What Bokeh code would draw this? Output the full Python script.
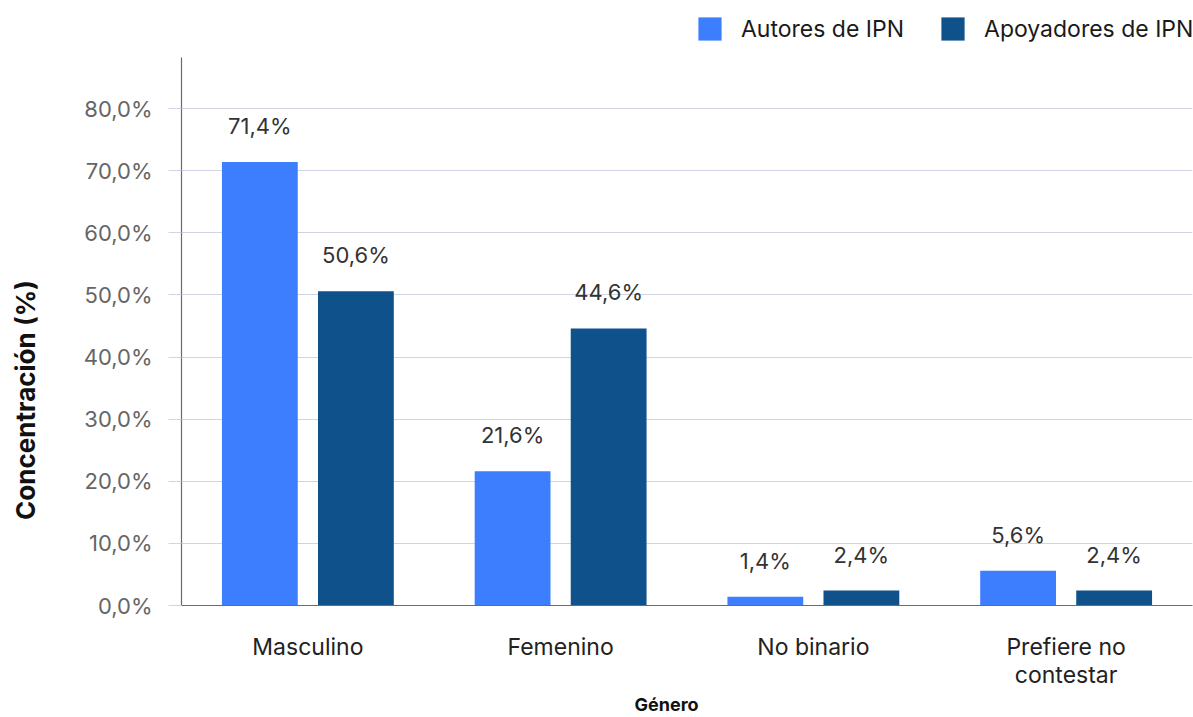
import math
from bokeh.plotting import figure
from bokeh.layouts import row
from bokeh.models import (ColumnDataSource, FactorRange, Range1d, Legend, LegendItem,
                          Title, CustomJSTickFormatter, FixedTicker)
from bokeh.transform import dodge
from bokeh.core.properties import value
from bokeh.embed import file_html
from bokeh.resources import INLINE

# ---- data ----
categories = ["Masculino", "Femenino", "No binario", "Prefiere no\ncontestar"]
autores = [71.4, 21.6, 1.4, 5.6]
apoyadores = [50.6, 44.6, 2.4, 2.4]
series_names = ["Autores de IPN", "Apoyadores de IPN"]
y_ticks = [0, 10, 20, 30, 40, 50, 60, 70, 80]
y_axis_end = 88.2
x_title = "Género"
y_title = "Concentración (%)"

def fmt(v):
    return f"{v:.1f}".replace(".", ",") + "%"

src = ColumnDataSource(dict(
    cat=categories,
    autores=autores,
    apoyadores=apoyadores,
    lab_a=[fmt(v) for v in autores],
    lab_b=[fmt(v) for v in apoyadores],
))

FONT = "Inter"
C_LIGHT = "#3d7eff"
C_DARK = "#0f528b"
GRID = "#d1d4e6"
W, H = 1193, 717
LEFT_W = 48
FRAME_LEFT, FRAME_RIGHT, FRAME_BOTTOM = 181, 1192, 605
PX_PER_UNIT = (605 - 108) / 80.0
y_view_end = FRAME_BOTTOM / PX_PER_UNIT   # frame reaches the top of the canvas

# ---- main chart ----
p = figure(x_range=FactorRange(*categories), y_range=Range1d(0, y_view_end),
           width=W - LEFT_W, height=H, output_backend="svg", toolbar_location=None,
           min_border_left=FRAME_LEFT - LEFT_W, min_border_right=W - FRAME_RIGHT,
           min_border_top=0, min_border_bottom=H - FRAME_BOTTOM)
p.title.visible = False
p.outline_line_color = None
p.background_fill_color = "white"
p.border_fill_color = "white"

r1 = p.vbar(x=dodge("cat", -0.19, range=p.x_range), top="autores", width=0.30,
            source=src, fill_color=C_LIGHT, line_color=None)
r2 = p.vbar(x=dodge("cat", 0.19, range=p.x_range), top="apoyadores", width=0.30,
            source=src, fill_color=C_DARK, line_color=None)

for col, lab, off in (("autores", "lab_a", -0.19), ("apoyadores", "lab_b", 0.19)):
    p.text(x=dodge("cat", off, range=p.x_range), y=col, text=lab, source=src,
           y_offset=-36, text_align="center", text_baseline="middle",
           text_font=value(FONT), text_font_size="22px", text_color="#333333")

p.xgrid.visible = False
p.ygrid.grid_line_color = GRID
p.ygrid.grid_line_width = 1

ya = p.yaxis[0]
ya.bounds = (0, y_axis_end)
ya.ticker = FixedTicker(ticks=y_ticks)
ya.formatter = CustomJSTickFormatter(code="return tick.toFixed(1).replace('.', ',') + '%';")
ya.major_tick_out = 13
ya.major_tick_in = 0
ya.major_tick_line_color = GRID
ya.minor_tick_line_color = None
ya.axis_line_color = "#6b6b6b"
ya.axis_line_width = 1.2
ya.major_label_standoff = 16
ya.major_label_text_font = FONT
ya.major_label_text_font_size = "22px"
ya.major_label_text_color = "#666666"

xa = p.xaxis[0]
xa.major_tick_line_color = None
xa.major_tick_out = 0
xa.major_tick_in = 0
xa.minor_tick_line_color = None
xa.axis_line_color = "#6b6b6b"
xa.axis_line_width = 1.2
xa.major_label_standoff = 27
xa.major_label_text_font = FONT
xa.major_label_text_font_size = "23px"
xa.major_label_text_line_height = 1.0
xa.major_label_text_color = "#222222"

p.add_layout(Title(text=x_title, align="left", offset=634 - FRAME_LEFT, standoff=0,
                   text_font=FONT, text_font_size="18px", text_font_style="bold",
                   text_color="#111111"), "below")

legend = Legend(items=[LegendItem(label=series_names[0], renderers=[r1]),
                       LegendItem(label=series_names[1], renderers=[r2])],
                orientation="horizontal", location=(695 - FRAME_LEFT, FRAME_BOTTOM - 43),
                border_line_color=None, background_fill_alpha=0,
                padding=0, margin=0, spacing=34, label_standoff=17,
                glyph_width=29, glyph_height=29,
                label_text_font=FONT, label_text_font_size="23px",
                label_text_color="#1a1a1a")
p.add_layout(legend, "center")

# ---- y axis title column (its frame is aligned with the main frame: 0..605 px) ----
q = figure(width=LEFT_W, height=H, x_range=Range1d(0, LEFT_W),
           y_range=Range1d(FRAME_BOTTOM, 0),
           output_backend="svg", toolbar_location=None,
           x_axis_location=None, y_axis_location=None,
           min_border_left=0, min_border_right=0, min_border_top=0,
           min_border_bottom=H - FRAME_BOTTOM)
q.title.visible = False
q.grid.visible = False
q.outline_line_color = None
q.border_fill_color = "white"
q.background_fill_color = "white"
q.text(x=[25], y=[399.5], text=[y_title], angle=math.pi / 2,
       text_align="center", text_baseline="middle",
       text_font=value(FONT), text_font_size="26px", text_font_style="bold",
       text_color="#111111")

layout = row(q, p, spacing=0)
open("out.html", "w").write(file_html(layout, INLINE))
